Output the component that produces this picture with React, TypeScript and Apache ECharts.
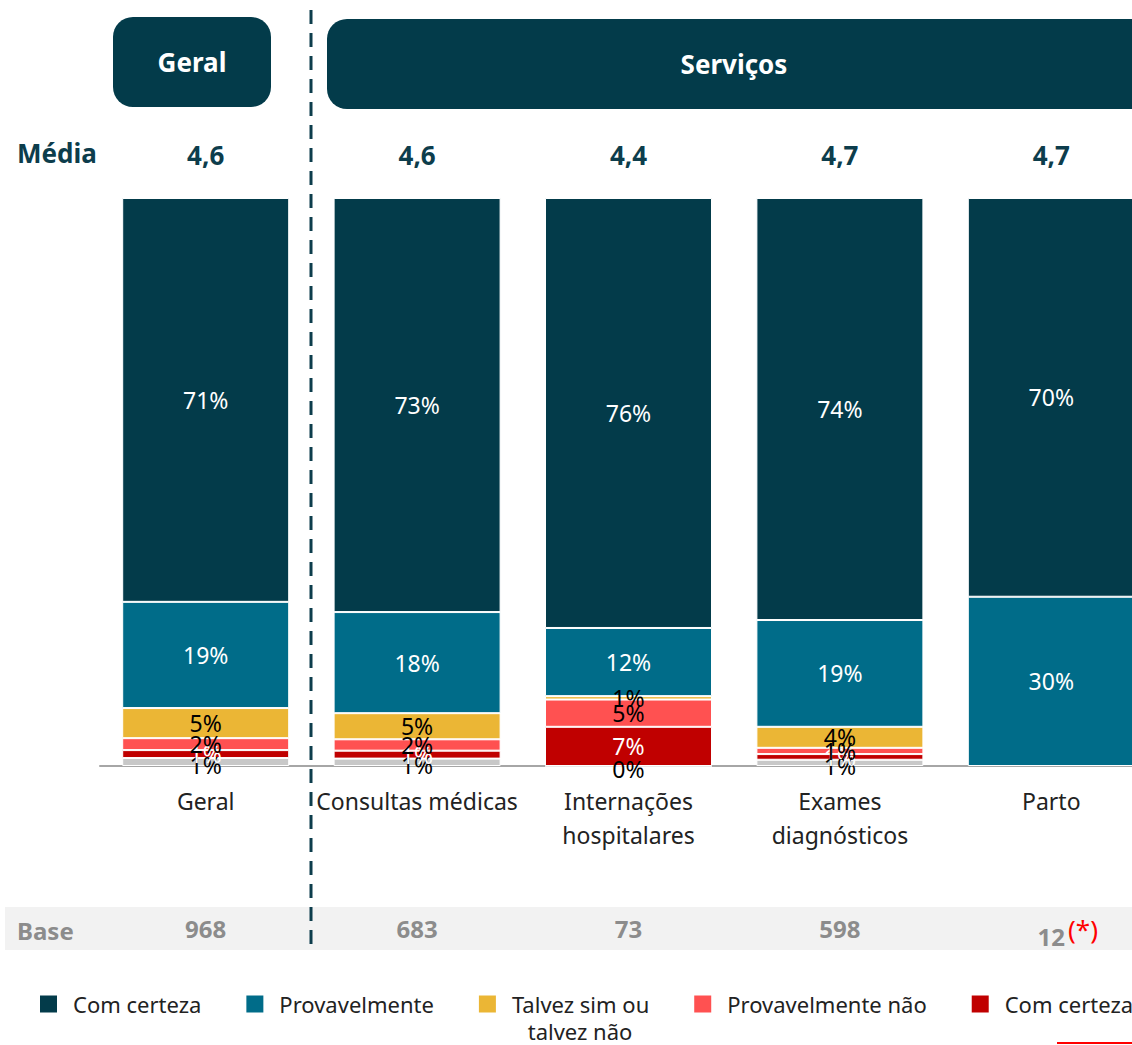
import React, { useEffect, useRef } from 'react';
import * as echarts from 'echarts';

const categories = ['Geral', 'Consultas médicas', 'Internações\nhospitalares', 'Exames\ndiagnósticos', 'Parto'];
const medias = ['4,6', '4,6', '4,4', '4,7', '4,7'];
const bases = ['968', '683', '73', '598', '12'];
const baseNotes = ['', '', '', '', '(*)'];

const comCerteza = [71.1, 72.9, 75.7, 74.3, 70.2];
const provavelmente = [18.7, 17.8, 12.0, 18.8, 29.8];
const talvez = [5.3, 4.6, 0.6, 3.7, null];
const provNao = [2.1, 2.0, 4.8, 1.1, null];
const certezaNao = [1.4, 1.4, 6.9, 1.0, null];
const naoSabe = [1.4, 1.3, 0, 1.1, null];

const legendNames = ['Com certeza', 'Provavelmente', 'Talvez sim ou talvez não', 'Provavelmente não', 'Com certeza não'];

const DARK = '#033b4a';
const FONT = '"Noto Sans", sans-serif';

export default function App() {
  const ref = useRef<HTMLDivElement>(null);
  useEffect(() => {
    const chart = echarts.init(ref.current!, null, { renderer: 'svg' });
    const stack = [
      { name: 'Não sabe', data: naoSabe, color: '#c8c8c8', labelColor: '#000', offset: [0, 3] },
      { name: 'Com certeza não', data: certezaNao, color: '#c00000', labelColor: '#fff', offset: [0, 0] },
      { name: 'Provavelmente não', data: provNao, color: '#ff5151', labelColor: '#000', offset: [0, 0] },
      { name: 'Talvez sim ou talvez não', data: talvez, color: '#ebb635', labelColor: '#000', offset: [0, 0] },
      { name: 'Provavelmente', data: provavelmente, color: '#006c89', labelColor: '#fff', offset: [0, 0] },
      { name: 'Com certeza', data: comCerteza, color: DARK, labelColor: '#fff', offset: [0, 0] },
    ];
    const series = stack.map((s) => ({
      name: s.name,
      type: 'bar',
      stack: 'total',
      barWidth: 167,
      data: s.data,
      itemStyle: { color: s.color, borderColor: '#ffffff', borderWidth: 1 },
      label: {
        show: true,
        position: 'inside',
        offset: s.offset,
        color: s.labelColor,
        fontFamily: FONT,
        fontSize: 23,
        formatter: (p: any) => (p.value == null ? '' : Math.round(p.value) + '%'),
      },
    }));

    chart.setOption({
      animation: false,
      backgroundColor: '#ffffff',
      textStyle: { fontFamily: FONT },
      grid: { left: 100, top: 198, width: 1057, height: 568, containLabel: false },
      legend: {
        data: legendNames,
        left: 38,
        top: 993,
        padding: 0,
        width: 1400,
        itemWidth: 19,
        itemHeight: 19,
        itemGap: 43,
        icon: 'rect',
        formatter: (n: string) => (n === 'Talvez sim ou talvez não' ? 'Talvez sim ou' : n),
        textStyle: { fontSize: 22, color: '#222', fontFamily: FONT, padding: [0, 0, 0, 10] },
      },
      xAxis: [
        {
          type: 'category',
          data: categories,
          position: 'bottom',
          axisLine: { show: true, lineStyle: { color: '#a6a6a6', width: 2 } },
          axisTick: { show: false },
          axisLabel: { color: '#222', fontSize: 23, fontFamily: FONT, margin: 18, lineHeight: 34, interval: 0 },
        },
        {
          type: 'category',
          data: categories,
          position: 'top',
          axisLine: { show: false },
          axisTick: { show: false },
          axisLabel: {
            interval: 0,
            margin: 30,
            color: '#0d3d4c',
            fontSize: 26,
            fontWeight: 'bold',
            fontFamily: FONT,
            formatter: (_v: string, i: number) => medias[i],
          },
        },
        {
          type: 'category',
          data: categories,
          position: 'bottom',
          offset: 144,
          axisLine: { show: false },
          axisTick: { show: false },
          axisLabel: {
            interval: 0,
            margin: 6,
            formatter: (_v: string, i: number) =>
              baseNotes[i] ? `{pad|}{b|${bases[i]}}{r|${baseNotes[i]}}` : `{b|${bases[i]}}`,
            rich: {
              pad: { width: 34 },
              b: { color: '#8c8c8c', fontSize: 24, fontWeight: 'bold', fontFamily: FONT },
              r: { color: '#ff0000', fontSize: 26, fontFamily: FONT, padding: [0, 0, 14, 2], width: 32 },
            },
          },
        },
      ],
      yAxis: { type: 'value', min: 0, max: 100, show: false },
      series,
      graphic: [
        { type: 'rect', z: -10, silent: true, shape: { x: 5, y: 907, width: 1200, height: 43 }, style: { fill: '#f2f2f2' } },
        { type: 'rect', shape: { x: 113, y: 17, width: 158, height: 90, r: 20 }, style: { fill: DARK } },
        { type: 'text', x: 192, y: 62, style: { text: 'Geral', fill: '#fff', font: `bold 26px ${FONT}`, align: 'center', verticalAlign: 'middle' } },
        { type: 'rect', shape: { x: 327, y: 19, width: 860, height: 90, r: 20 }, style: { fill: DARK } },
        { type: 'text', x: 734, y: 64, style: { text: 'Serviços', fill: '#fff', font: `bold 26px ${FONT}`, align: 'center', verticalAlign: 'middle' } },
        { type: 'text', x: 17, y: 153, style: { text: 'Média', fill: '#0d3d4c', font: `bold 26px ${FONT}`, align: 'left', verticalAlign: 'middle' } },
        { type: 'text', x: 17, y: 930, z: 10, style: { text: 'Base', fill: '#8c8c8c', font: `bold 24px ${FONT}`, align: 'left', verticalAlign: 'middle' } },
        { type: 'line', z: 10, shape: { x1: 311, y1: 10, x2: 311, y2: 950 }, style: { stroke: '#0d3d4c', lineWidth: 3, lineDash: [14, 9] } },
        { type: 'text', x: 580, y: 1031, style: { text: 'talvez não', fill: '#222', font: `22px ${FONT}`, align: 'center', verticalAlign: 'middle' } },
        { type: 'line', shape: { x1: 1057, y1: 1043, x2: 1140, y2: 1043 }, style: { stroke: '#ff0000', lineWidth: 2 } },
      ],
    });
    return () => chart.dispose();
  }, []);
  return (
    <div style={{ position: 'absolute', left: 0, top: 0, width: 1132, height: 1045, overflow: 'hidden', background: '#fff' }}>
      <div ref={ref} style={{ width: 1180, height: 1045 }} />
    </div>
  );
}
